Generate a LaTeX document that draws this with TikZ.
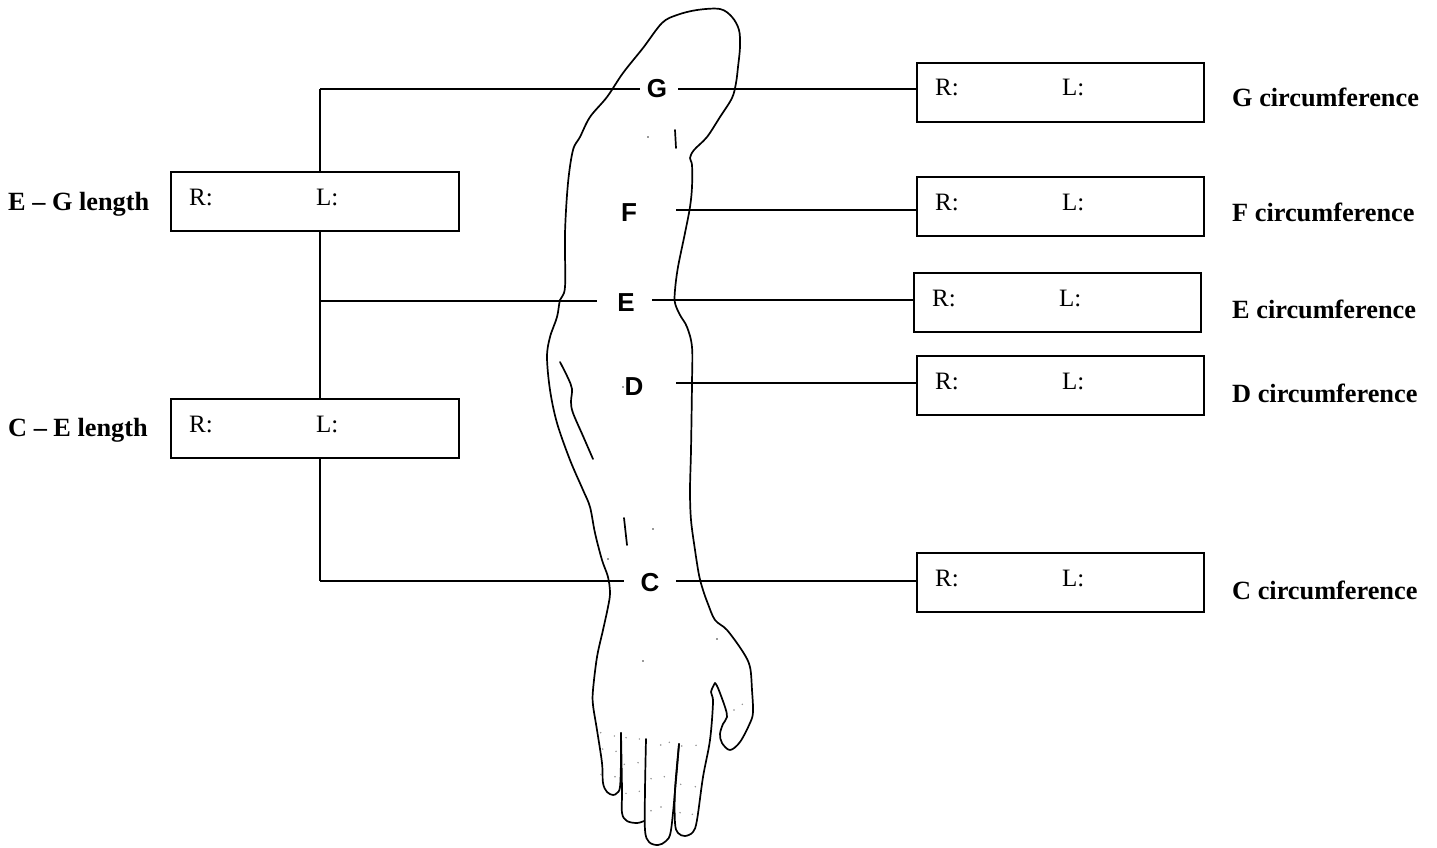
\documentclass[tikz,border=0pt]{standalone}
\usepackage{fontspec}
\setmainfont{Liberation Serif}
\newfontfamily\sansf{Liberation Sans}
\begin{document}
\begin{tikzpicture}[x=1pt,y=-1pt,
  ln/.style={line width=1.6pt},
  mbox/.style={draw, line width=1.6pt, minimum width=287pt, minimum height=59pt, inner sep=0pt, anchor=north west},
  rl/.style={anchor=base west, inner sep=0pt, font=\fontsize{25}{29}\selectfont},
  capt/.style={anchor=base west, inner sep=0pt, font=\fontsize{26.3}{30}\selectfont\bfseries},
  lett/.style={inner sep=0pt, font=\fontsize{26}{30}\selectfont\sansf\bfseries},
  arm/.style={line width=1.7pt, line join=round, line cap=round},
  dot/.style={fill=black!45, draw=none},
  ddot/.style={fill=black!80, draw=none}]
\useasboundingbox (0,0) rectangle (1437,848);

% ---- right boxes
\node[mbox] (Gbox) at (916,62) {};
\node[mbox] (Fbox) at (916,176) {};
\node[mbox] (Ebox) at (913,272) {};
\node[mbox] (Dbox) at (916,355) {};
\node[mbox] (Cbox) at (916,552) {};
% ---- left boxes
\node[mbox, minimum width=288pt] (EGbox) at (170,171) {};
\node[mbox, minimum width=288pt] (CEbox) at (170,398) {};

% R: / L: texts
\foreach \b/\n in {Gbox/g,Fbox/f,Ebox/e,Dbox/d,Cbox/c,EGbox/eg,CEbox/ce}{
  \node[rl] (R\n) at ([shift={(19pt,-34pt)}]\b.north west) {R:};
  \node[rl] (L\n) at ([shift={(146pt,-34pt)}]\b.north west) {L:};
}

% captions
\node[capt] (Gcap) at (1232,107) {G circumference};
\node[capt] (Fcap) at (1232,221) {F circumference};
\node[capt] (Ecap) at (1232,318) {E circumference};
\node[capt] (Dcap) at (1232,402) {D circumference};
\node[capt] (Ccap) at (1232,599) {C circumference};
\node[capt] (EGcap) at (8,210) {E -- G length};
\node[capt] (CEcap) at (8,436) {C -- E length};

% letters
\node[lett] (G) at (657,89) {G};
\node[lett] (F) at (629,213) {F};
\node[lett] (E) at (626,303) {E};
\node[lett] (D) at (634,387) {D};
\node[lett] (C) at (650,583) {C};

% junction points on the left bar
\coordinate (jG) at (320,89);
\coordinate (jE) at (320,301);
\coordinate (jC) at (320,581);

% connectors
\draw[ln] (jG) -- ([xshift=-17pt]G.center |- jG);
\draw[ln] ([xshift=21pt]G.center |- jG) -- (Gbox.west |- jG);
\draw[ln] ([xshift=47pt]F.center |- 0,210) -- (Fbox.west |- 0,210);
\draw[ln] (jE) -- ([xshift=-29pt]E.center |- jE);
\draw[ln] ([xshift=26pt]E.center |- 0,300) -- (Ebox.west |- 0,300);
\draw[ln] ([xshift=42pt]D.center |- 0,383) -- (Dbox.west |- 0,383);
\draw[ln] (jC) -- ([xshift=-26pt]C.center |- jC);
\draw[ln] ([xshift=26pt]C.center |- jC) -- (Cbox.west |- jC);
\draw[ln] (jG) -- (EGbox.north -| jG);
\draw[ln] (EGbox.south -| jG) -- (CEbox.north -| jG);
\draw[ln] (CEbox.south -| jG) -- (jC);

% ---- arm outline
\draw[arm] plot[smooth, tension=0.55] coordinates {
 (715,683) (718,688) (725,707) (727,717) (723,724) (720,734) (722,743) (730,750)
 (740,742) (750,723) (753,712) (752,690) (750,667) (743,652) (727,630) (715,620)
 (708,604) (703,590) (699,575) (695,550) (691,520) (690,490) (691,450) (692,383)
 (692,347) (687,327) (680,315) (675,303) (675,290) (678,267) (685,233) (690,207)
 (692,187) (692,165) (690,158) (694,150) (707,137) (720,117) (732,98) (736,83)
 (738,67) (740,47) (739,30) (732,17) (720,9) (697,10) (677,15) (662,23)
 (643,48) (623,73) (607,97) (590,117) (580,137) (573,150) (568,183) (565,233)
 (565,287) (560,300) (557,317) (550,337) (547,357) (550,390) (557,423) (570,460)
 (583,490) (590,507) (595,533) (602,560) (608,577) (610,593) (608,607) (603,630)
 (597,657) (593,690) (593,705) (597,730) (602,763) (603,783) (607,792) (613,795)
 (617,793) (620,787) (621,760) (621,733)};
% index finger
\draw[arm] plot[smooth, tension=0.55] coordinates {
 (715,683) (711,692) (713,702) (710,740) (703,777) (697,820) (693,832) (685,836)
 (678,833) (675,823) (675,790) (679,744)};
% middle finger
\draw[arm] plot[smooth, tension=0.55] coordinates {
 (679,744) (676,780) (671,830) (666,841) (658,845) (649,842) (645,830) (645,790) (646,739)};
% ring finger
\draw[arm] plot[smooth, tension=0.55] coordinates {
 (621,733) (622,790) (622,813) (627,821) (637,823) (644,821)};

% inner marks
\draw[arm] (675,130) -- (676,148);
\draw[arm] plot[smooth, tension=0.55] coordinates {
 (560,362) (568,378) (572,389) (571,402) (573,413) (583,436) (593,459)};
\draw[arm] (624,518) -- (627,545);

% dots
\foreach \p in {(648,137),(623,387),(653,529),(608,559),(717,639),(643,661)}
  \fill[ddot] \p circle (0.9);
\foreach \p in {(600.7,732.7),(614.3,736),(626,737.7),(639.3,739),(660.7,745),(669.3,742.3),
  (681.7,746),(696,745.3),(602.7,749),(616,751.3),(638,762.7),(624.3,764.3),(601,774.3),
  (615,776.7),(626,793.3),(639.3,791.3),(651,778.7),(664.3,776.7),(680.7,784.3),(695.3,786.7),
  (651,810.7),(661,807),(680,812.7),(692.3,814.3),(734,710),(742.3,704.3)}
  \fill[dot] \p circle (0.8);
\end{tikzpicture}
\end{document}
